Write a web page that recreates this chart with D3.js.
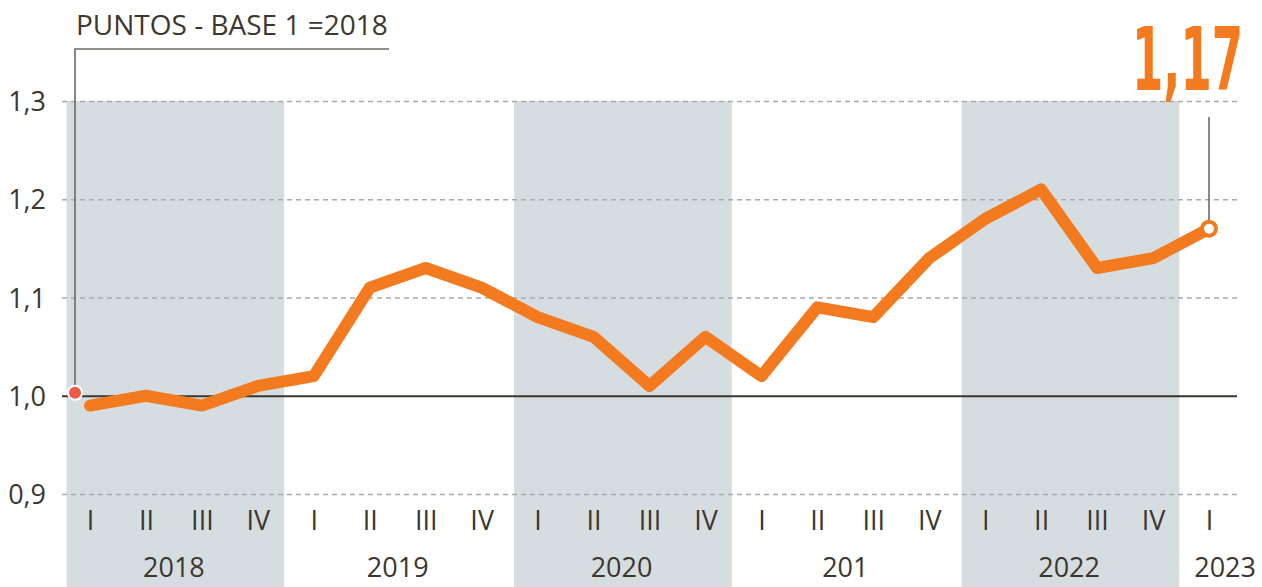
<!DOCTYPE html>
<html>
<head>
<meta charset="utf-8">
<script src="https://cdn.jsdelivr.net/npm/d3@7"></script>
<style>
  html, body { margin: 0; padding: 0; background: #fff; }
  svg { display: block; }
</style>
</head>
<body>
<script>
// data
const years = ['2018', '2019', '2020', '201', '2022', '2023'];
const quartersPerYear = [4, 4, 4, 4, 4, 1];
const quarterNames = ['I', 'II', 'III', 'IV'];
const values = [0.99, 1.00, 0.99, 1.01,
                1.02, 1.11, 1.13, 1.11,
                1.08, 1.06, 1.01, 1.06,
                1.02, 1.09, 1.08, 1.14,
                1.18, 1.21, 1.13, 1.14,
                1.17];
const yTicks = [0.9, 1.0, 1.1, 1.2, 1.3];
const shadedYears = ['2018', '2020', '2022'];
const title = 'PUNTOS - BASE 1 =2018';

const W = 1262, H = 587;
const orange = '#f47a20', ink = '#3b372f', band = '#d5dde0';
const font = '"Open Sans", sans-serif';

// flatten quarters
let points = [];
years.forEach((yr, yi) => {
  for (let q = 0; q < quartersPerYear[yi]; q++) {
    points.push({ year: yr, q: quarterNames[q], key: yr + '-' + q, value: values[points.length] });
  }
});

let svg = d3.select('body').append('svg').attr('width', W).attr('height', H);

let x = d3.scalePoint().domain(points.map(d => d.key)).range([90, 1209]);
let y = d3.scaleLinear().domain([0.9, 1.3]).range([494, 101]);
let step = x.step();
let plotL = 62, plotR = 1237;

// shaded year bands
shadedYears.forEach(yr => {
  let ps = points.filter(d => d.year === yr);
  let x0 = x(ps[0].key) - 0.42 * step, x1 = x(ps[ps.length - 1].key) + 0.47 * step;
  svg.append('rect').attr('x', x0).attr('y', y(1.3)).attr('width', x1 - x0).attr('height', H - y(1.3)).attr('fill', band);
});

// y axis + grid
let yAxis = svg.append('g').attr('transform', `translate(${plotL},0)`)
  .call(d3.axisLeft(y).tickValues(yTicks).tickSize(-(plotR - plotL)).tickPadding(16)
    .tickFormat(d => d3.format('.1f')(d).replace('.', ',')));
yAxis.select('.domain').remove();
yAxis.selectAll('line')
  .attr('stroke', d => d === 1 ? '#3a352c' : '#a9a9a9')
  .attr('stroke-width', d => d === 1 ? 2 : 1.3)
  .attr('stroke-dasharray', d => d === 1 ? null : '5,4');
yAxis.selectAll('text').attr('fill', ink).style('font-family', font).style('font-size', '27px').attr('dy', '0.36em');

// quarter labels
let xAxis = svg.append('g').attr('transform', 'translate(0,530)')
  .call(d3.axisBottom(x).tickSize(0).tickPadding(0).tickFormat(k => points.find(d => d.key === k).q));
xAxis.select('.domain').remove();
xAxis.selectAll('text').attr('y', 0).attr('dy', null).attr('fill', ink).style('font-family', font).style('font-size', '27px');

// year labels
years.forEach(yr => {
  let ps = points.filter(d => d.year === yr);
  let cx = d3.mean(ps, d => x(d.key));
  let single = ps.length === 1;
  svg.append('text').attr('x', single ? W - 6 : cx).attr('y', 577)
    .attr('text-anchor', single ? 'end' : 'middle')
    .attr('fill', ink).style('font-family', font).style('font-size', '27px').text(yr);
});

// title + bracket
svg.append('text').attr('x', 76).attr('y', 35).attr('fill', ink)
  .style('font-family', font).style('font-size', '28px').text(title);
svg.append('path').attr('d', `M389,49H75V${y(1.0) - 3}`).attr('fill', 'none').attr('stroke', '#6f6a62').attr('stroke-width', 1.6);
svg.append('circle').attr('cx', 75).attr('cy', y(1.0) - 3).attr('r', 7).attr('fill', '#ef5a47').attr('stroke', '#fff').attr('stroke-width', 2);

// line
let line = d3.line().x(d => x(d.key)).y(d => y(d.value));
svg.append('path').datum(points).attr('d', line).attr('fill', 'none')
  .attr('stroke', orange).attr('stroke-width', 12).attr('stroke-linejoin', 'round').attr('stroke-linecap', 'round');

// last point callout
let last = points[points.length - 1];
let lx = x(last.key), ly = y(last.value);
svg.append('line').attr('x1', lx).attr('x2', lx).attr('y1', 117).attr('y2', ly).attr('stroke', '#6f6a62').attr('stroke-width', 1.6);
svg.append('circle').attr('cx', lx).attr('cy', ly).attr('r', 7).attr('fill', '#fff').attr('stroke', orange).attr('stroke-width', 4);
let big = svg.append('text').attr('fill', orange)
  .attr('text-anchor', 'end')
  .style('font-family', '"DejaVu Sans Condensed", "DejaVu Sans", sans-serif').style('font-weight', 'bold').style('font-size', '88px')
  .text(d3.format('.2f')(last.value).replace('.', ','));
let natural = big.node().getComputedTextLength();
big.attr('transform', `translate(1243,90) scale(${111 / natural},1)`);
</script>
</body>
</html>
